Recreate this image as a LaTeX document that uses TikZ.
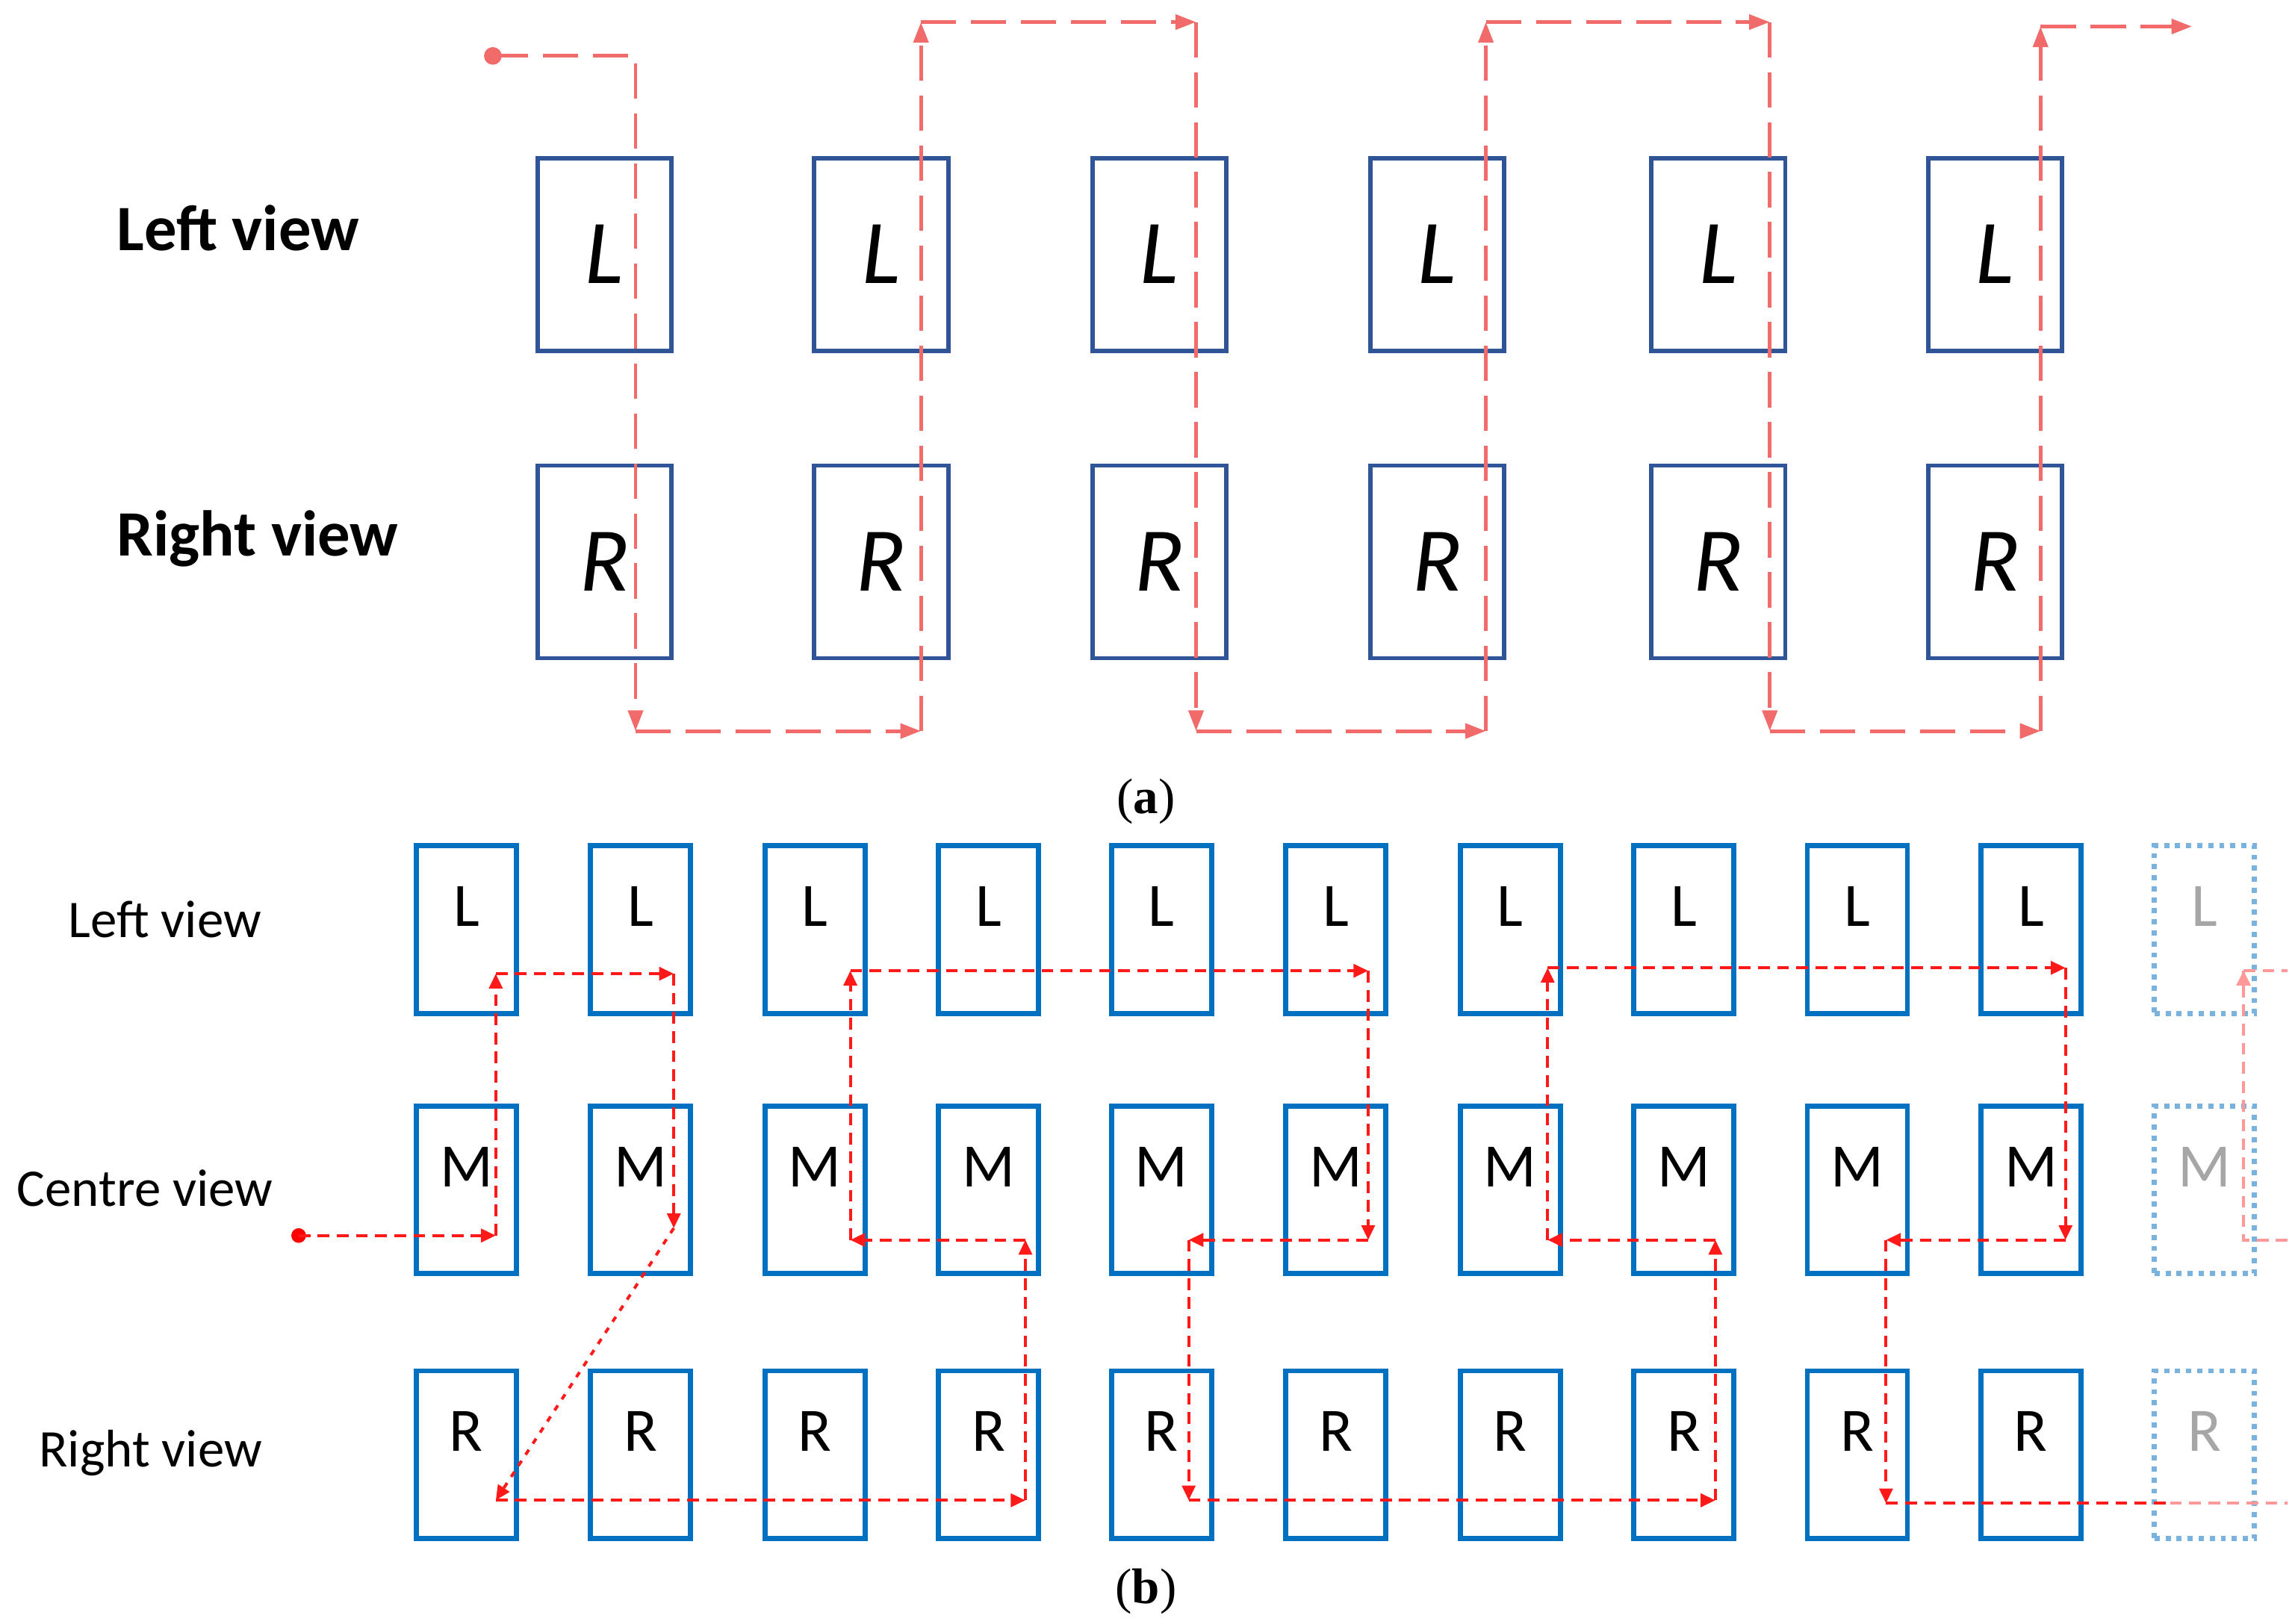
\documentclass[tikz,border=0pt]{standalone}
\usepackage{fontspec}
\setmainfont{Carlito}
\newfontfamily\capfont{Liberation Serif}
\usetikzlibrary{arrows.meta}
\definecolor{boxA}{HTML}{2F5597}
\definecolor{boxB}{HTML}{0070C0}
\definecolor{ghostB}{HTML}{7AB2DE}
\definecolor{redA}{HTML}{F26B6B}
\begin{document}
\begin{tikzpicture}[x=1pt,y=-1pt,
 boxa/.style={draw=boxA,line width=3pt,minimum width=91pt,minimum height=131pt,inner sep=0pt,font=\fontsize{62}{62}\selectfont\itshape},
 boxb/.style={draw=boxB,line width=3.5pt,minimum width=68pt,minimum height=114pt,inner sep=0pt},
 ghost/.style={draw=ghostB,line width=3.5pt,dash pattern=on 3.5pt off 4pt,minimum width=68pt,minimum height=114pt,inner sep=0pt},
 lta/.style={font=\fontsize{44}{44}\selectfont\bfseries,anchor=west},
 ltb/.style={font=\fontsize{36}{36}\selectfont,anchor=west},
 pa/.style={draw=redA,line width=2.5pt,dash pattern=on 24pt off 10pt,-{Triangle[length=14pt,width=10pt]}},
 pb/.style={draw=red!90!white,line width=2pt,dash pattern=on 8pt off 5pt,-{Triangle[length=10pt,width=9pt]}},
 pf/.style={draw=red!40!white,line width=2pt,dash pattern=on 8pt off 5pt},
 lt/.style={font=\fontsize{42}{42}\selectfont,anchor=north,yshift=-26pt}]
\useasboundingbox (0,0) rectangle (1560,1104);
% ---------------- (a)
\node[lta] (la) at (76,155) {Left view};
\node[lta] (ra) at (76,366) {Right view};
\foreach \x [count=\i] in {411,599,788,977,1168,1356}{
  \node[boxa] (AL\i) at (\x,173) {L};
  \node[boxa] (AR\i) at (\x,382) {R};
}
\coordinate (a0) at (335,38);
\coordinate (a1) at (432,38);
\coordinate (a2) at (432,497);
\coordinate (a3) at (626,497);
\coordinate (a4) at (626,15);
\coordinate (a5) at (813,15);
\coordinate (a6) at (813,497);
\coordinate (a7) at (1010,497);
\coordinate (a8) at (1010,15);
\coordinate (a9) at (1203,15);
\coordinate (a10) at (1203,497);
\coordinate (a11) at (1387,497);
\coordinate (a12) at (1387,18);
\coordinate (a13) at (1490,18);
\fill[redA] (a0) circle (6pt);
\draw[pa] (a0) -- (a1) -- (a2);
\draw[pa] (a2) -- (a3);
\draw[pa] (a3) -- (a4);
\draw[pa] (a4) -- (a5);
\draw[pa] (a5) -- (a6);
\draw[pa] (a6) -- (a7);
\draw[pa] (a7) -- (a8);
\draw[pa] (a8) -- (a9);
\draw[pa] (a9) -- (a10);
\draw[pa] (a10) -- (a11);
\draw[pa] (a11) -- (a12);
\draw[pa] (a12) -- (a13);
\node[font=\capfont\fontsize{34}{34}\selectfont] (capa) at (779,545) {(\textbf{a})};
% ---------------- (b)
\node[ltb] (lb) at (43,625) {Left view};
\node[ltb] (cb) at (8,808) {Centre view};
\node[ltb] (rb) at (23,988) {Right view};
\foreach \x [count=\i] in {317,435.5,554,672,789.5,908,1026.5,1144.5,1262.5,1380.5}{
  \node[boxb] (BL\i) at (\x,632) {};
  \node[lt] at (BL\i.north) {L};
  \node[boxb] (BM\i) at (\x,809) {};
  \node[lt] at (BM\i.north) {M};
  \node[boxb] (BR\i) at (\x,989) {};
  \node[lt] at (BR\i.north) {R};
}
\node[ghost] (GL) at (1498.5,632) {};
\node[lt,text=gray!70] at (GL.north) {L};
\node[ghost] (GM) at (1498.5,809) {};
\node[lt,text=gray!70] at (GM.north) {M};
\node[ghost] (GR) at (1498.5,989) {};
\node[lt,text=gray!70] at (GR.north) {R};
\coordinate (b0) at (203,840);
\coordinate (b1) at (337,840);
\coordinate (b2) at (337,662);
\coordinate (b3) at (458,662);
\coordinate (b4) at (458,835);
\coordinate (b5) at (337,1020);
\coordinate (b6) at (697,1020);
\coordinate (b7) at (697,843);
\coordinate (b8) at (578,843);
\coordinate (b9) at (578,660);
\coordinate (b10) at (930,660);
\coordinate (b11) at (930,843);
\coordinate (b12) at (808,843);
\coordinate (b13) at (808,1020);
\coordinate (b14) at (1166,1020);
\coordinate (b15) at (1166,843);
\coordinate (b16) at (1052,843);
\coordinate (b17) at (1052,658);
\coordinate (b18) at (1404,658);
\coordinate (b19) at (1404,843);
\coordinate (b20) at (1282,843);
\coordinate (b21) at (1282,1022);
\coordinate (b22) at (1475,1022);
\coordinate (b23) at (1555,1022);
\coordinate (c1) at (1555,843);
\coordinate (c2) at (1525,843);
\coordinate (c3) at (1525,660);
\coordinate (c4) at (1555,660);
\fill[red] (b0) circle (5pt);
\draw[pb] (b0) -- (b1);
\draw[pb] (b1) -- (b2);
\draw[pb] (b2) -- (b3);
\draw[pb] (b3) -- (b4);
\draw[pb,dash pattern=on 4pt off 5pt] (b4) -- (b5);
\draw[pb] (b5) -- (b6);
\draw[pb] (b6) -- (b7);
\draw[pb] (b7) -- (b8);
\draw[pb] (b8) -- (b9);
\draw[pb] (b9) -- (b10);
\draw[pb] (b10) -- (b11);
\draw[pb] (b11) -- (b12);
\draw[pb] (b12) -- (b13);
\draw[pb] (b13) -- (b14);
\draw[pb] (b14) -- (b15);
\draw[pb] (b15) -- (b16);
\draw[pb] (b16) -- (b17);
\draw[pb] (b17) -- (b18);
\draw[pb] (b18) -- (b19);
\draw[pb] (b19) -- (b20);
\draw[pb] (b20) -- (b21);
\draw[pb,-] (b21) -- (b22);
\draw[pf] (b22) -- (b23);
\draw[pf] (c1) -- (c2) -- (c3);
\fill[red!40!white] (c3) -- ++(-5,10) -- ++(10,0) -- cycle;
\draw[pf] (c3) -- (c4);
\node[font=\capfont\fontsize{34}{34}\selectfont] (capb) at (779,1082) {(\textbf{b})};
\end{tikzpicture}
\end{document}
